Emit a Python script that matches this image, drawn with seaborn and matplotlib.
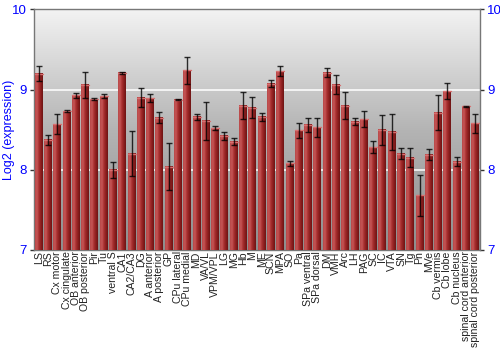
import numpy as np
import pandas as pd
import matplotlib
matplotlib.use("Agg")
import matplotlib.pyplot as plt
import seaborn as sns
from matplotlib.colors import LinearSegmentedColormap

regions = ["LS", "RS", "Cx motor", "Cx cingulate", "OB anterior", "OB posterior", "Pir", "Tu",
           "ventral S", "CA1", "CA2/CA3", "DG", "A anterior", "A posterior", "GP", "CPu lateral",
           "CPu medial", "MD", "VA/VL", "VPM/VPL", "LG", "MG", "Hb", "M", "ME", "SCN", "MPA",
           "SO", "Pa", "SPa ventral", "SPa dorsal", "DM", "VMH", "Arc", "LH", "PAG", "SC", "IC",
           "VTA", "SN", "Tg", "Pn", "MVe", "Cb vermis", "Cb lobe", "Cb nucleus",
           "spinal cord anterior", "spinal cord posterior"]
expression = [9.20, 8.375, 8.57, 8.73, 8.93, 9.06, 8.88, 8.92,
              8.00, 9.21, 8.20, 8.90, 8.89, 8.65, 8.04, 8.875,
              9.24, 8.66, 8.61, 8.52, 8.425, 8.35, 8.80, 8.775, 8.66, 9.075, 9.23,
              8.08, 8.49, 8.56, 8.53, 9.21, 9.06, 8.80, 8.60, 8.63, 8.28, 8.50,
              8.475, 8.20, 8.15, 7.68, 8.19, 8.71, 8.98, 8.10,
              8.79, 8.58]
error = [0.09, 0.06, 0.125, 0.01, 0.03, 0.16, 0.01, 0.02,
         0.10, 0.01, 0.28, 0.12, 0.05, 0.065, 0.29, 0.01,
         0.17, 0.04, 0.24, 0.02, 0.05, 0.04, 0.17, 0.13, 0.05, 0.045, 0.06,
         0.03, 0.09, 0.085, 0.12, 0.055, 0.12, 0.17, 0.045, 0.10, 0.075, 0.185,
         0.225, 0.07, 0.12, 0.26, 0.07, 0.22, 0.10, 0.055,
         0.005, 0.12]
yticks = [7, 8, 9, 10]

df = pd.DataFrame({"region": regions, "expression": expression, "error": error})

sns.set_style("white")
plt.rcParams["font.family"] = ["Liberation Sans", "DejaVu Sans"]

fig = plt.figure(figsize=(5, 3.5), dpi=100)
ax = fig.add_axes([0.068, 0.286, 0.892, 0.687])

YMIN, YMAX = 7, 10
n = len(regions)

# background gradient
bg = LinearSegmentedColormap.from_list("bg", ["#8e8e8e", "#b4b4b4", "#f3f3f3"])
grad = np.linspace(0, 1, 256).reshape(-1, 1)
ax.imshow(grad, aspect="auto", cmap=bg, origin="lower",
          extent=[-0.5, n - 0.5, YMIN, YMAX], zorder=0)

sns.barplot(data=df, x="region", y="expression", color="#a32a2a", width=0.86,
            errorbar=None, ax=ax, zorder=2, linewidth=0)

# bar gradient overlay
barcmap = LinearSegmentedColormap.from_list(
    "bar", ["#b84848", "#c65656", "#a83030", "#8c1e1e", "#6e1414"])
hgrad = np.linspace(0, 1, 64).reshape(1, -1)
for p in list(ax.patches):
    x0, y0 = p.get_x(), p.get_y()
    w, h = p.get_width(), p.get_height()
    top = y0 + h
    ax.imshow(hgrad, aspect="auto", cmap=barcmap,
              extent=[x0, x0 + w, YMIN, top], zorder=3)
    ax.plot([x0, x0 + w], [top, top], color="#d87070", lw=1, zorder=3.5)

ax.set_ylim(YMIN, YMAX)
ax.set_xlim(-0.5, n - 0.5)

# grid lines
for yv in [8, 9]:
    ax.axhline(yv, color="white", lw=1.3, alpha=0.85, zorder=1)

ax.errorbar(np.arange(n), df["expression"], yerr=df["error"], fmt="none",
            ecolor="black", elinewidth=1, capsize=2.2, capthick=1, alpha=0.8, zorder=5)

ax.set_xticks(np.arange(n))
ax.set_xticklabels(regions, rotation=90, fontsize=7.6, color="#222222")
ax.set_yticks(yticks)
ax.set_yticklabels([str(t) for t in yticks], fontsize=9.5, color="#0000ff")
ax.tick_params(axis="y", which="both", left=True, right=True, labelleft=True, labelright=True,
               length=3, width=1, color="#333333", pad=2)
ax.tick_params(axis="x", length=0, pad=1)
ax.set_xlabel("")
ax.set_ylabel("Log2 (expression)", color="#0000ff", fontsize=9)
ax.yaxis.set_label_coords(-0.043, 0.5)

for s in ax.spines.values():
    s.set_color("#777777")
    s.set_linewidth(1)

fig.savefig("out.png", dpi=100)
